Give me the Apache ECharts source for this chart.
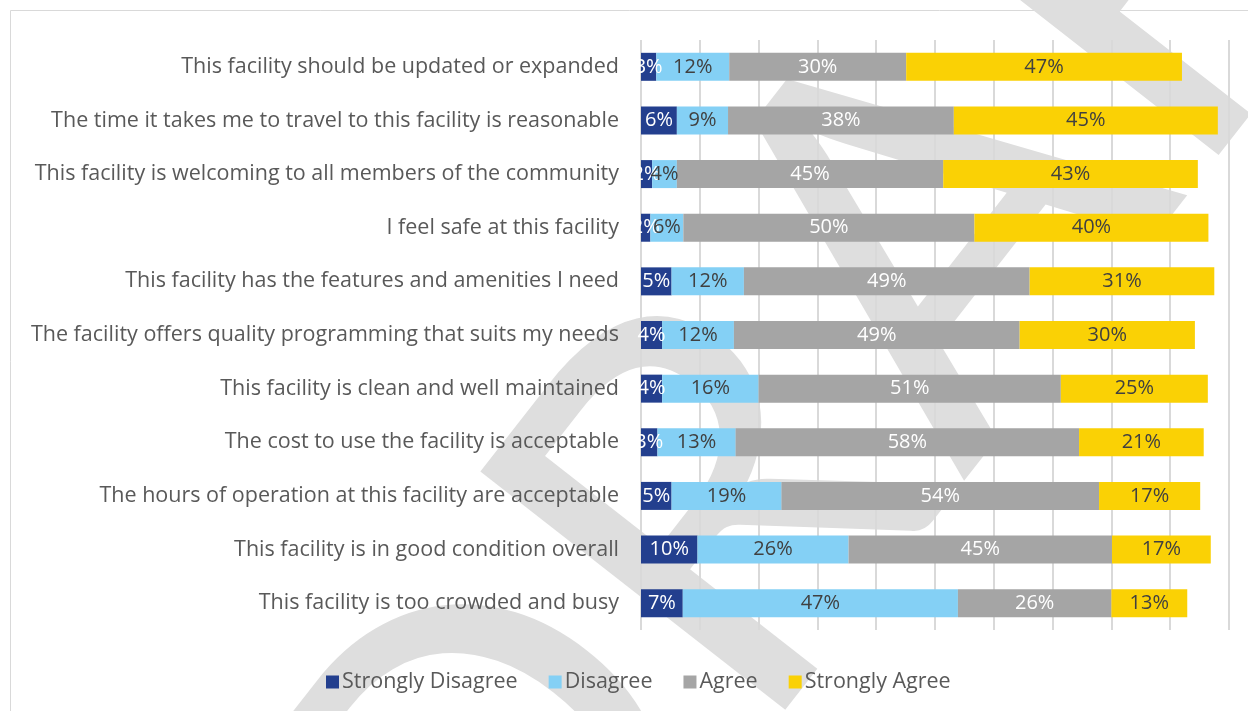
<!DOCTYPE html>
<html>
<head>
<meta charset="utf-8">
<script src="https://cdn.jsdelivr.net/npm/echarts@6/dist/echarts.min.js"></script>
<style>
  html, body { margin: 0; padding: 0; background: #fff; }
  #chart { width: 1248px; height: 711px; }
</style>
</head>
<body>
<div id="chart"></div>
<script>
var categories = [
    'This facility should be updated or expanded',
    'The time it takes me to travel to this facility is reasonable',
    'This facility is welcoming to all members of the community',
    'I feel safe at this facility',
    'This facility has the features and amenities I need',
    'The facility offers quality programming that suits my needs',
    'This facility is clean and well maintained',
    'The cost to use the facility is acceptable',
    'The hours of operation at this facility are acceptable',
    'This facility is in good condition overall',
    'This facility is too crowded and busy'
];
var stronglyDisagree = [2.6, 6.1, 1.9, 1.6, 5.2, 3.6, 3.6, 2.8, 5.2, 9.6, 7.1];
var disagree = [12.4, 8.7, 4.2, 5.6, 12.3, 12.2, 16.4, 13.3, 18.7, 25.7, 46.8];
var agree = [30.1, 38.4, 45.3, 49.5, 48.6, 48.6, 51.4, 58.4, 54.0, 44.8, 26.1];
var stronglyAgree = [46.9, 44.9, 43.3, 39.8, 31.4, 29.8, 25.0, 21.2, 17.2, 16.8, 12.9];

var font = '"Open Sans"';
var textGray = '#595959';

function pct(p) {
    return Math.round(p.value) + '%';
}

function barSeries(name, data, color, labelColor) {
    return {
        name: name,
        type: 'bar',
        stack: 'total',
        barWidth: 28,
        data: data,
        itemStyle: { color: color },
        label: {
            show: true,
            position: 'inside',
            formatter: pct,
            color: labelColor,
            fontFamily: font,
            fontSize: 20
        }
    };
}

var myChart = echarts.init(document.getElementById('chart'));
var option = {
    backgroundColor: '#fff',
    animation: false,
    graphic: [
        {
            type: 'rect',
            z: -20,
            silent: true,
            shape: { x: 10.5, y: 10.5, width: 1300, height: 800 },
            style: { fill: 'none', stroke: '#d9d9d9', lineWidth: 1 }
        },
        {
            // DRAFT watermark behind the plot
            type: 'text',
            z: -10,
            silent: true,
            x: 900,
            y: 280,
            rotation: 52 * Math.PI / 180,
            style: {
                text: 'DRAFT',
                font: '540px Lato',
                fill: '#dedede',
                align: 'center',
                verticalAlign: 'middle'
            }
        }
    ],
    legend: {
        left: 321,
        top: 666,
        icon: 'rect',
        itemWidth: 13,
        itemHeight: 13,
        itemGap: 31,
        textStyle: { color: textGray, fontFamily: font, fontSize: 21.5, padding: [0, 0, 0, -2] },
        data: ['Strongly Disagree', 'Disagree', 'Agree', 'Strongly Agree']
    },
    grid: {
        left: 641,
        right: 19,
        top: 40,
        bottom: 81
    },
    xAxis: {
        type: 'value',
        min: 0,
        max: 100,
        interval: 10,
        axisLabel: { show: false },
        axisLine: { show: false },
        axisTick: { show: false },
        splitLine: {
            show: true,
            showMinLine: true,
            showMaxLine: true,
            lineStyle: { color: '#d9d9d9', width: 2 }
        }
    },
    yAxis: {
        type: 'category',
        inverse: true,
        data: categories,
        axisLine: { show: false },
        axisTick: { show: false },
        axisLabel: {
            color: textGray,
            fontFamily: font,
            fontSize: 21.5,
            margin: 22
        }
    },
    series: [
        barSeries('Strongly Disagree', stronglyDisagree, '#233f8e', '#fff'),
        barSeries('Disagree', disagree, '#84d0f5', '#404040'),
        barSeries('Agree', agree, '#a5a5a5', '#fff'),
        barSeries('Strongly Agree', stronglyAgree, '#fad105', '#404040')
    ]
};
myChart.setOption(option);
</script>
</body>
</html>
